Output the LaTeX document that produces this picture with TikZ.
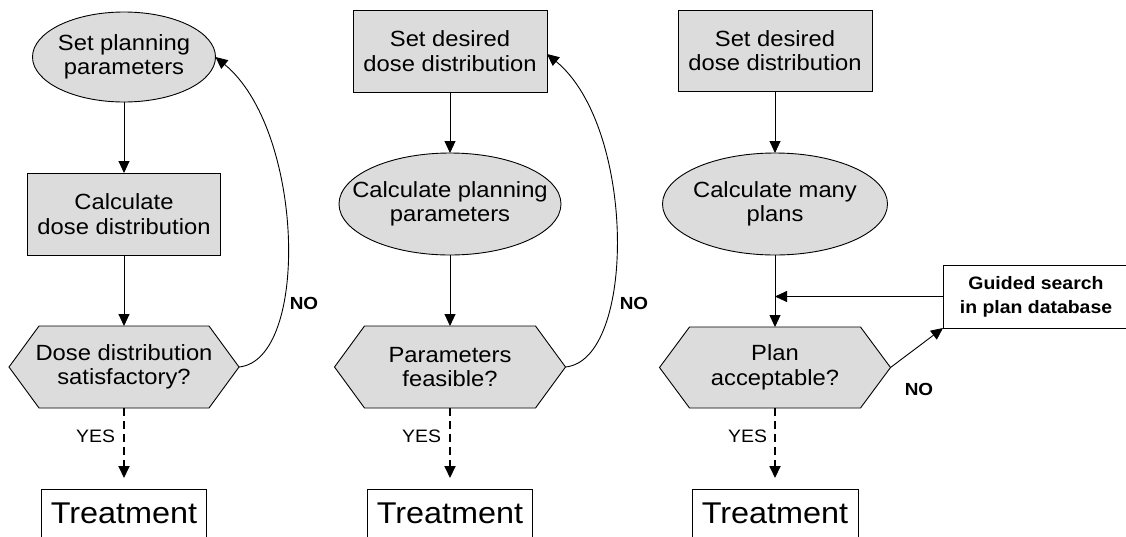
\documentclass[tikz,border=0pt]{standalone}
\usepackage{fontspec}
\setmainfont{Liberation Sans}[FakeStretch=1.08]
\usetikzlibrary{shapes.geometric,arrows.meta,calc}
\definecolor{boxgray}{RGB}{220,220,220}
\newcommand{\hexat}[1]{\draw[hexshape] (#1.west) -- ([xshift=30pt]#1.north west) -- ([xshift=-30pt]#1.north east) -- (#1.east) -- ([xshift=-30pt]#1.south east) -- ([xshift=30pt]#1.south west) -- cycle;}
\begin{document}
\begin{tikzpicture}[x=1pt,y=-1pt,
  every node/.style={inner sep=0pt, outer sep=0pt},
  txt/.style={font=\fontsize{22}{24.5}\selectfont, align=center},
  grayrect/.style={draw, fill=boxgray, line width=0.9pt, minimum width=194pt, minimum height=82pt, txt},
  grayell/.style={draw, fill=boxgray, ellipse, line width=0.9pt},
  hexbox/.style={minimum width=231pt, minimum height=82pt},
  hexshape/.style={draw, fill=boxgray, line width=0.9pt},
  treat/.style={draw, line width=0.9pt, minimum width=165pt, minimum height=48pt, font=\fontsize{30}{32}\selectfont},
  guide/.style={draw, fill=white, line width=0.9pt, minimum width=186pt, minimum height=63pt, align=center, font=\bfseries\fontsize{18}{24}\selectfont},
  arr/.style={-{Triangle[width=11pt,length=12pt]}, line width=0.9pt},
  yesarr/.style={arr, dash pattern=on 8pt off 5pt, line width=1.8pt, shorten >=11pt},
  yeslbl/.style={font=\fontsize{18}{20}\selectfont, anchor=east},
  nolbl/.style={font=\bfseries\fontsize{17.5}{20}\selectfont},
  ]
\useasboundingbox[fill=white] (0,0) rectangle (1126,536);
\clip (0,0) rectangle (1126,536);

% ---------- column 1 ----------
\node[grayell, minimum width=183pt, minimum height=90pt] (e1) at (124,57) {};
\node[txt] (e1t) at (e1) {Set planning\\parameters};
\node[grayrect, minimum width=193pt] (r1) at (124,214) {Calculate\\dose distribution};
\node[hexbox, minimum width=230pt] (h1) at (124,367) {};
\hexat{h1}
\node[txt] (h1t) at (h1) {Dose distribution\\satisfactory?};
\node[treat] (t1) at (124,513) {Treatment};

\draw[arr] (e1.south) -- (r1.north);
\draw[arr] (r1.south) -- (h1.north);
\draw[yesarr] (h1.south) -- (t1.north);
\node[yeslbl] (y1) at (115,436) {YES};
\draw[arr] (h1.east) .. controls +(71,-7) and +(89,73) .. (e1.east);
\node[nolbl] (n1) at (304,303) {NO};

% ---------- column 2 ----------
\node[grayrect] (r2) at (450,51) {Set desired\\dose distribution};
\node[grayell, minimum width=222pt, minimum height=102pt] (e2) at (450,204) {};
\node[txt] (e2t) at (e2) {Calculate planning\\parameters};
\node[hexbox] (h2) at (450,367) {};
\hexat{h2}
\node[txt] (h2t) at (h2) {Parameters\\feasible?};
\node[treat] (t2) at (450,513) {Treatment};

\draw[arr] (r2.south) -- (e2.north);
\draw[arr] (e2.south) -- (h2.north);
\draw[yesarr] (h2.south) -- (t2.north);
\node[yeslbl] (y2) at (441,436) {YES};
\draw[arr] (h2.east) .. controls +(71,-7) and +(89,73) .. ([yshift=-3pt]r2.east);
\node[nolbl] (n2) at (634,303) {NO};

% ---------- column 3 ----------
\node[grayrect, minimum height=81pt] (r3) at (775,50.5) {Set desired\\dose distribution};
\node[grayell, minimum width=225pt, minimum height=102pt] (e3) at (775,204) {};
\node[txt] (e3t) at (e3) {Calculate many\\plans};
\node[hexbox, minimum height=81pt] (h3) at (775,367.5) {};
\hexat{h3}
\node[txt] (h3t) at (h3) {Plan\\acceptable?};
\node[treat, minimum width=166pt] (t3) at (775,513) {Treatment};
\node[guide] (g) at (1036,296.5) {Guided search\\in plan database};

\draw[arr] (r3.south) -- (e3.north);
\draw[arr] (e3.south) -- (h3.north);
\draw[arr] (g.west) -- (e3.south |- g.west);
\draw[arr] (h3.east) -- (g.south west);
\draw[yesarr] (h3.south) -- (t3.north);
\node[yeslbl] (y3) at (767,436) {YES};
\node[nolbl] (n3) at (919,389) {NO};
\end{tikzpicture}
\end{document}
